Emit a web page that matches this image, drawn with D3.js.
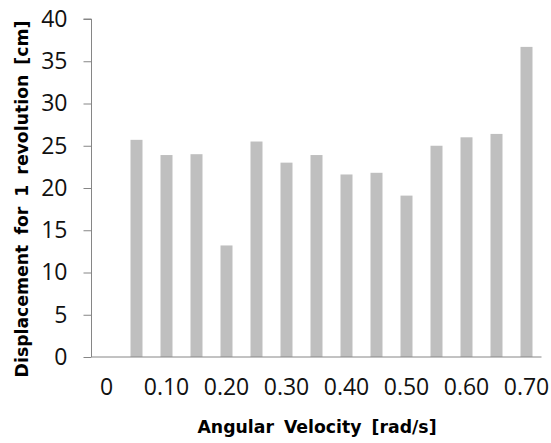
<!DOCTYPE html>
<html>
<head>
<meta charset="utf-8">
<script src="https://cdn.jsdelivr.net/npm/d3@7"></script>
<style>
  html, body { margin: 0; padding: 0; background: #fff; }
  svg { display: block; }
</style>
</head>
<body>
<div id="chart"></div>
<script>
// categories (rad/s), every other one gets a label
const categories = ["0", "0.05", "0.10", "0.15", "0.20", "0.25", "0.30", "0.35",
                    "0.40", "0.45", "0.50", "0.55", "0.60", "0.65", "0.70"];
const tickLabels = ["0", "0.10", "0.20", "0.30", "0.40", "0.50", "0.60", "0.70"];
// displacement for 1 revolution [cm]; no bar at 0
const displacement = [null, 25.7, 23.9, 24.0, 13.2, 25.5, 23.0, 23.9,
                      21.6, 21.8, 19.1, 25.0, 26.0, 26.4, 36.7];
const yTicks = [0, 5, 10, 15, 20, 25, 30, 35, 40];

const W = 551, H = 443;
const M = { left: 91.5, right: 9.5, top: 19, bottom: 86 };

const svg = d3.select('#chart').append('svg')
  .attr('width', W)
  .attr('height', H);

const x = d3.scaleBand()
  .domain(categories)
  .range([M.left, W - M.right])
  .paddingInner(0.6)
  .paddingOuter(0.3);

const y = d3.scaleLinear()
  .domain([0, 40])
  .range([H - M.bottom, M.top]);

const axisColor = '#868686';
const tickFont = '"Open Sans", "Noto Sans", sans-serif';
const titleFont = '"DejaVu Sans", Verdana, sans-serif';

// bars
svg.append('g')
  .selectAll('rect')
  .data(categories.map((c, i) => ({ c, v: displacement[i] })).filter(d => d.v != null))
  .join('rect')
  .attr('x', d => x(d.c))
  .attr('y', d => y(d.v))
  .attr('width', x.bandwidth())
  .attr('height', d => y(0) - y(d.v))
  .attr('fill', '#bfbfbf');

// y axis
const yAxis = svg.append('g')
  .attr('transform', `translate(${M.left},0)`)
  .call(d3.axisLeft(y).tickValues(yTicks).tickSize(8).tickPadding(16).tickFormat(d3.format('d')));
yAxis.selectAll('path, line').attr('stroke', axisColor);
yAxis.select('.domain').attr('d', `M-8,${y(40)}H0V${y(0)}`);
yAxis.selectAll('text')
  .attr('font-family', tickFont)
  .attr('font-size', 23)
  .attr('fill', '#111');

// x axis (line only, labels on every other category)
const xAxis = svg.append('g')
  .attr('transform', `translate(0,${y(0)})`)
  .call(d3.axisBottom(x)
    .tickValues(tickLabels.map(t => categories.find(c => +c === +t)))
    .tickSize(0)
    .tickPadding(22)
    .tickFormat((d) => tickLabels.find(t => +t === +d)));
xAxis.select('.domain').attr('stroke', axisColor).attr('d', `M${M.left},0H${W - M.right}`);
xAxis.selectAll('text')
  .attr('font-family', tickFont)
  .attr('font-size', 23)
  .attr('fill', '#111');

// axis titles
svg.append('text')
  .attr('x', 317)
  .attr('y', 433)
  .attr('text-anchor', 'middle')
  .attr('font-family', titleFont)
  .attr('font-weight', 'bold')
  .attr('font-size', 17.3)
  .attr('word-spacing', 4)
  .attr('fill', '#000')
  .text('Angular Velocity [rad/s]');

svg.append('text')
  .attr('transform', `translate(28,199) rotate(-90)`)
  .attr('text-anchor', 'middle')
  .attr('font-family', titleFont)
  .attr('font-weight', 'bold')
  .attr('font-size', 17.3)
  .attr('word-spacing', 4)
  .attr('fill', '#000')
  .text('Displacement for 1 revolution [cm]');
</script>
</body>
</html>
